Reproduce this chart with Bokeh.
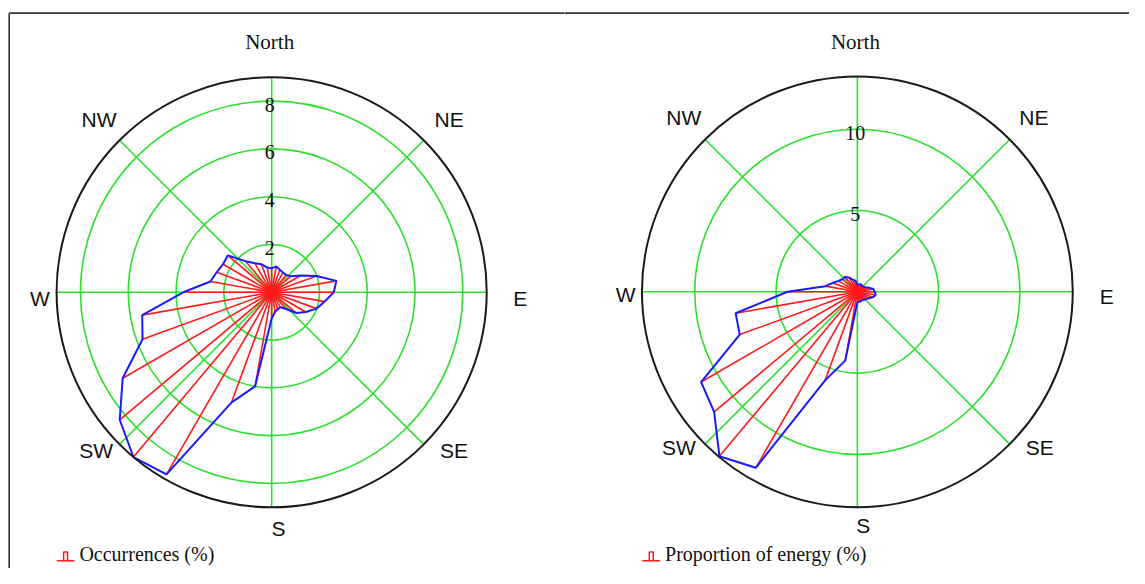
import numpy as np
from bokeh.plotting import figure
from bokeh.layouts import row
from bokeh.models import Range1d
from bokeh.embed import file_html
from bokeh.resources import INLINE
from bokeh.core.properties import value

# ---------------- data ----------------
directions = list(range(0, 360, 10))  # compass bearing, degrees clockwise from north

occurrences = [1.0, 1.1, 1.0, 0.95, 0.95, 1.05, 1.4, 2.0, 2.75, 2.6, 2.25, 2.0,
               1.65, 1.35, 0.9, 0.72, 0.75, 0.83, 1.1, 4.0, 4.9, 8.8, 9.0, 8.3,
               7.2, 5.75, 5.5, 3.7, 2.6, 2.45, 2.35, 2.4, 1.7, 1.4, 1.25, 1.05]

energy = [0.45, 0.45, 0.5, 0.5, 0.45, 0.5, 0.55, 0.75, 1.0, 1.07, 1.15, 1.0,
          0.8, 0.7, 0.65, 0.6, 0.62, 0.63, 0.65, 4.3, 5.8, 12.5, 13.2, 11.5,
          11.1, 7.7, 7.6, 4.3, 2.0, 1.6, 1.35, 1.2, 1.2, 1.0, 0.8, 0.7]

compass_labels = ["North", "NE", "E", "SE", "S", "SW", "W", "NW"]
compass_bearings = [0, 45, 90, 135, 180, 225, 270, 315]

occ_rings = [2, 4, 6, 8]
occ_ring_labels = ["2", "4", "6", "8"]
occ_outer = 9.0

energy_rings = [5, 10]
energy_ring_labels = ["5", "10"]
energy_outer = 13.25

legend_occ = "Occurrences (%)"
legend_energy = "Proportion of energy (%)"

# ---------------- layout ----------------
# positions below are given in reference-picture pixels and mapped into the figure
REF_W, REF_H = 1145, 584
TOT_W, FIG_H = 1129, 568
SX = TOT_W / REF_W
SY = FIG_H / REF_H
S = (SX + SY) / 2

GREEN = "#2ee02e"
RED = "#ff1a1a"
BLUE = "#1a1aff"
SERIF = value("Liberation Serif")
SANS = value("Liberation Sans")


def make_rose(vals, rings, ring_labels, outer, scale_ref, cx_ref, cy_ref,
              ref_left, ref_right, label_pos, legend_text, legend_x, draw_left_border):
    fig_left = round(ref_left * SX)
    fig_w = round(ref_right * SX) - fig_left
    scale = scale_ref * S                 # figure px per data unit
    cxf = cx_ref * SX - fig_left
    cyf = cy_ref * SY
    p = figure(width=fig_w, height=FIG_H, output_backend="svg", toolbar_location=None,
               x_range=Range1d(-cxf / scale, (fig_w - cxf) / scale),
               y_range=Range1d(-(FIG_H - cyf) / scale, cyf / scale),
               min_border=0, outline_line_color=None)
    p.axis.visible = False
    p.grid.visible = False
    p.background_fill_color = "white"
    p.border_fill_color = "white"

    def px(x):  # reference x -> data
        return (x * SX - fig_left - cxf) / scale

    def py(y):  # reference y -> data
        return (cyf - y * SY) / scale

    # green rings
    p.circle(x=[0] * len(rings), y=[0] * len(rings), radius=rings,
             fill_color=None, line_color=GREEN, line_width=1.6)
    # green compass spokes
    b = np.radians(compass_bearings)
    p.segment(x0=0, y0=0, x1=outer * np.sin(b), y1=outer * np.cos(b),
              line_color=GREEN, line_width=1.6)

    # red spokes
    th = np.radians(directions)
    v = np.array(vals)
    xs = v * np.sin(th)
    ys = v * np.cos(th)
    p.segment(x0=0, y0=0, x1=xs, y1=ys, line_color=RED, line_width=1.6)
    # blue outline
    p.line(x=list(xs) + [xs[0]], y=list(ys) + [ys[0]], line_color=BLUE, line_width=2)

    # outer black circle
    p.circle(x=[0], y=[0], radius=[outer], fill_color=None,
             line_color="#1a1a1a", line_width=2)

    # ring labels
    p.text(x=[-2 / scale] * len(rings), y=[r - 3.5 / scale for r in rings],
           text=ring_labels, text_font=SERIF, text_font_size="20px",
           text_align="center", text_baseline="middle", text_color="#111111")

    # compass labels
    for lab, (lx, ly) in zip(compass_labels, label_pos):
        font = SERIF if lab == "North" else SANS
        p.text(x=[px(lx)], y=[py(ly)], text=[lab], text_font=font, text_font_size="21px",
               text_align="center", text_baseline="middle", text_color="#111111")

    # legend
    ly = 576
    p.line(x=[px(legend_x), px(legend_x + 18)], y=[py(ly), py(ly)], line_color=RED, line_width=1.5)
    p.line(x=[px(legend_x + 7), px(legend_x + 7), px(legend_x + 11), px(legend_x + 11)],
           y=[py(ly), py(ly - 9), py(ly - 9), py(ly)], line_color=RED, line_width=1.5)
    p.text(x=[px(legend_x + 23)], y=[py(569)], text=[legend_text], text_font=SERIF,
           text_font_size="20px", text_align="left", text_baseline="middle",
           text_color="#111111")

    # document border
    x_start = px(8.8) if draw_left_border else px(ref_left - 4)
    p.line(x=[x_start, px(ref_right + 4)], y=[py(13), py(13)],
           line_color="#333333", line_width=1.6)
    if draw_left_border:
        p.line(x=[px(8.8), px(8.8)], y=[py(13), py(620)], line_color="#333333", line_width=1.6)
    return p


left_labels = [(273, 43), (455, 122), (527, 306), (460, 463), (282, 543),
               (97, 463), (40, 306), (100, 122)]
right_labels = [(867, 43), (1048, 120), (1122, 304), (1054, 460), (875, 540),
                (688, 460), (634, 302), (693, 120)]

p1 = make_rose(occurrences, occ_rings, occ_ring_labels, occ_outer, 24.4,
               275, 300, 0, 572, left_labels, legend_occ, 57, True)
p2 = make_rose(energy, energy_rings, energy_ring_labels, energy_outer, 16.6,
               869, 299.5, 572, REF_W, right_labels, legend_energy, 651, False)

layout = row(p1, p2, spacing=0)
open("out.html", "w").write(file_html(layout, INLINE))
